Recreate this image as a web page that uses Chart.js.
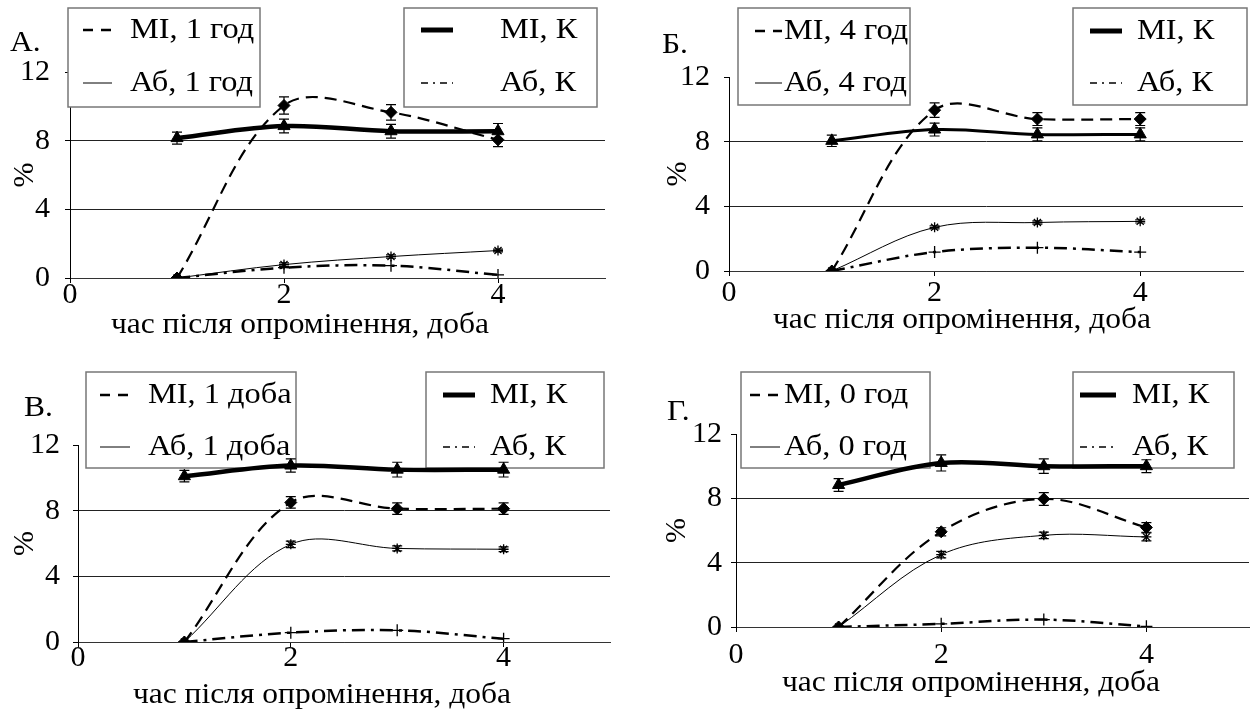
<!DOCTYPE html>
<html><head><meta charset="utf-8">
<script src="https://cdn.jsdelivr.net/npm/chart.js@4.4.1/dist/chart.umd.min.js"></script>
<style>
html,body{margin:0;padding:0;background:#fff;}
body{width:1257px;height:715px;position:relative;overflow:hidden;}
canvas{position:absolute;}
</style></head><body>
<canvas id="cA" width="628" height="345" style="left:0px;top:0px"></canvas>
<canvas id="cB" width="629" height="345" style="left:628px;top:0px"></canvas>
<canvas id="cV" width="628" height="370" style="left:0px;top:345px"></canvas>
<canvas id="cG" width="629" height="370" style="left:628px;top:345px"></canvas>
<script>
// ---------- data ----------
const days = [1, 2, 3, 4];
const xTickValues = [0, 2, 4];
const yTickValues = [0, 4, 8, 12];
const xTitle = 'час після опромінення, доба';
const yTitle = '%';
const panelLetters = ['А.', 'Б.', 'В.', 'Г.'];

const legendA = ['МІ, 1 год', 'Аб, 1 год', 'МІ, К', 'Аб, К'];
const legendB = ['МІ, 4 год', 'Аб, 4 год', 'МІ, К', 'Аб, К'];
const legendV = ['МІ, 1 доба', 'Аб, 1 доба', 'МІ, К', 'Аб, К'];
const legendG = ['МІ, 0 год', 'Аб, 0 год', 'МІ, К', 'Аб, К'];

// Panel А
const miA = [0, 10.05, 9.65, 8.05];
const miErrA = [0, 0.5, 0.45, 0.4];
const abA = [0, 0.78, 1.25, 1.6];
const abErrA = [0, 0.1, 0.1, 0.08];
const miKA = [8.15, 8.85, 8.55, 8.55];
const miKErrA = [0.35, 0.4, 0.4, 0.45];
const abKA = [0, 0.6, 0.72, 0.18];

// Panel Б
const miB = [0, 9.95, 9.4, 9.4];
const miErrB = [0, 0.45, 0.4, 0.4];
const abB = [0, 2.7, 3.0, 3.07];
const abErrB = [0, 0.1, 0.1, 0.1];
const miKB = [8.05, 8.75, 8.45, 8.45];
const miKErrB = [0.35, 0.4, 0.4, 0.4];
const abKB = [0, 1.17, 1.44, 1.17];

// Panel В
const miV = [0, 8.5, 8.12, 8.12];
const miErrV = [0, 0.35, 0.35, 0.35];
const abV = [0, 5.95, 5.7, 5.65];
const abErrV = [0, 0.2, 0.15, 0.15];
const miKV = [10.1, 10.75, 10.5, 10.5];
const miKErrV = [0.35, 0.4, 0.45, 0.45];
const abKV = [0, 0.57, 0.71, 0.2];

// Panel Г
const miG = [0, 5.92, 7.96, 6.19];
const miErrG = [0, 0.25, 0.4, 0.3];
const abG = [0, 4.5, 5.7, 5.6];
const abErrG = [0, 0.2, 0.2, 0.25];
const miKG = [8.83, 10.2, 10.0, 10.0];
const miKErrG = [0.4, 0.5, 0.45, 0.4];
const abKG = [0, 0.2, 0.46, 0.04];

// ---------- drawing ----------
const FONT = "'Liberation Serif', 'Times New Roman', serif";

const errorBarPlugin = {
  id: 'errorBars',
  afterDatasetsDraw(chart) {
    const ctx = chart.ctx;
    const yScale = chart.scales.y;
    ctx.save();
    ctx.strokeStyle = '#000';
    ctx.lineWidth = 1.2;
    ctx.setLineDash([]);
    chart.data.datasets.forEach((ds, di) => {
      if (!ds.errorBars) return;
      const meta = chart.getDatasetMeta(di);
      meta.data.forEach((pt, i) => {
        const e = ds.errorBars[i];
        if (!e) return;
        const v = ds.data[i].y;
        const y1 = yScale.getPixelForValue(v + e);
        const y2 = yScale.getPixelForValue(v - e);
        const x = pt.x;
        ctx.beginPath();
        ctx.moveTo(x, y1); ctx.lineTo(x, y2);
        ctx.moveTo(x - 5, y1); ctx.lineTo(x + 5, y1);
        ctx.moveTo(x - 5, y2); ctx.lineTo(x + 5, y2);
        ctx.stroke();
      });
    });
    ctx.restore();
  }
};

function stretchedText(ctx, text, x, y, sx, align) {
  ctx.save();
  ctx.translate(x, y);
  ctx.scale(sx, 1);
  ctx.textAlign = align;
  ctx.fillText(text, 0, 0);
  ctx.restore();
}

const decorPlugin = {
  id: 'decor',
  beforeDatasetsDraw(chart, args, opts) {
    const ctx = chart.ctx;
    ctx.save();
    ctx.fillStyle = '#000';
    ctx.textBaseline = 'middle';
    // panel letter
    ctx.font = '30px ' + FONT;
    stretchedText(ctx, opts.letter, opts.letterPos.x, opts.letterPos.y, 1.05, 'left');
    // x axis title
    ctx.font = '30px ' + FONT;
    stretchedText(ctx, opts.xTitle, opts.xTitlePos.x, opts.xTitlePos.y, 1.05, 'center');
    // legend boxes
    opts.boxes.forEach(b => {
      ctx.fillStyle = '#fff';
      ctx.fillRect(b.x, b.y, b.w, b.h);
      ctx.strokeStyle = '#777';
      ctx.lineWidth = 1.5;
      ctx.setLineDash([]);
      ctx.strokeRect(b.x, b.y, b.w, b.h);
      b.rows.forEach(r => {
        const ds = chart.data.datasets[r.ds];
        ctx.strokeStyle = '#000';
        ctx.lineWidth = r.lw;
        ctx.setLineDash(r.dash);
        ctx.beginPath();
        ctx.moveTo(r.s1, r.y); ctx.lineTo(r.s2, r.y);
        ctx.stroke();
        ctx.setLineDash([]);
        ctx.fillStyle = '#000';
        ctx.font = '30px ' + FONT;
        ctx.textBaseline = 'middle';
        stretchedText(ctx, ds.label, r.tx, r.y, 1.08, 'left');
      });
    });
    ctx.restore();
  }
};

function toXY(vals) { return days.map((d, i) => ({ x: d, y: vals[i] })); }

function makeChart(id, letter, labels, mi, miErr, ab, abErr, miK, miKErr, abK, L) {
  const common = { borderColor: '#000', backgroundColor: '#000', pointBorderColor: '#000',
                   pointBackgroundColor: '#000', tension: 0.35, fill: false };
  const datasets = [
    Object.assign({}, common, { label: labels[0], data: toXY(mi), errorBars: miErr,
      borderDash: [12, 7], borderWidth: 2.2, pointStyle: 'rectRot', pointRadius: 6, pointBorderWidth: 1 }),
    Object.assign({}, common, { label: labels[1], data: toXY(ab), errorBars: abErr,
      borderWidth: 1, pointStyle: 'star', pointRadius: 5, pointBorderWidth: 1.3 }),
    Object.assign({}, common, { label: labels[2], data: toXY(miK), errorBars: miKErr,
      borderWidth: L.kWidth, pointStyle: 'triangle', pointRadius: 7, pointBorderWidth: 1 }),
    Object.assign({}, common, { label: labels[3], data: toXY(abK),
      borderDash: [13, 6, 3, 6], borderWidth: 2.5, pointStyle: 'cross', pointRadius: 6, pointBorderWidth: 1.3 })
  ];
  const tickFont = { family: FONT, size: 30 };
  return new Chart(document.getElementById(id), {
    type: 'line',
    data: { datasets },
    options: {
      responsive: false, animation: false, devicePixelRatio: 1,
      layout: { padding: { top: L.padTop, right: L.padRight, left: 0, bottom: 0 } },
      plugins: {
        legend: { display: false }, tooltip: { enabled: false },
        decor: {
          letter, letterPos: L.letter, xTitle, xTitlePos: L.xTitlePos,
          boxes: [
            { x: L.box1.x, y: L.box1.y, w: L.box1.w, h: L.box1.h, rows: [
              { ds: 0, y: L.rows[0], s1: L.s1[0], s2: L.s1[1], tx: L.t1, lw: 2.5, dash: [10, 8] },
              { ds: 1, y: L.rows[1], s1: L.s1[0], s2: L.s1[1], tx: L.t1, lw: 1, dash: [] } ] },
            { x: L.box2.x, y: L.box2.y, w: L.box2.w, h: L.box2.h, rows: [
              { ds: 2, y: L.rows[0], s1: L.s2[0], s2: L.s2[1], tx: L.t2, lw: 5, dash: [] },
              { ds: 3, y: L.rows[1], s1: L.s2[0], s2: L.s2[1], tx: L.t2, lw: 1.5, dash: [7, 5, 2, 5] } ] }
          ]
        }
      },
      scales: {
        x: {
          type: 'linear', min: 0, max: 5,
          afterBuildTicks: s => { s.ticks = xTickValues.map(v => ({ value: v })); },
          afterFit: s => { s.height = L.xHeight; },
          ticks: { font: tickFont, color: '#000', padding: L.xLabelPad, maxRotation: 0, autoSkip: false },
          grid: { drawOnChartArea: false, drawTicks: true, tickLength: 5, tickColor: '#000' },
          border: { display: true, color: '#333', width: 1 },
          title: { display: false }
        },
        y: {
          type: 'linear', min: 0, max: 12,
          afterBuildTicks: s => { s.ticks = yTickValues.map(v => ({ value: v })); },
          afterFit: s => { s.width = L.yWidth; },
          ticks: { font: tickFont, color: '#000', padding: L.yLabelPad },
          grid: { drawTicks: true, tickLength: 5, tickColor: '#000', lineWidth: 1,
                  color: c => (c.tick && c.tick.value === 12) ? 'rgba(0,0,0,0)' : '#222' },
          border: { display: true, color: '#000', width: 1 },
          title: { display: true, text: yTitle, font: tickFont, color: '#000',
                   padding: { top: L.yTitlePad, bottom: 0 } }
        }
      }
    },
    plugins: [decorPlugin, errorBarPlugin]
  });
}

makeChart('cA', panelLetters[0], legendA, miA, miErrA, abA, abErrA, miKA, miKErrA, abKA, {
  padTop: 72, padRight: 23, yWidth: 70, xHeight: 67, xLabelPad: -6, yLabelPad: 15,
  yTitlePad: 7, kWidth: 4.5, letter: { x: 10, y: 43 }, xTitlePos: { x: 300, y: 325 },
  box1: { x: 68, y: 8, w: 192, h: 99 }, box2: { x: 404, y: 8, w: 193, h: 99 },
  rows: [30, 83], s1: [83, 112], t1: 130, s2: [421, 453], t2: 500 });

makeChart('cB', panelLetters[1], legendB, miB, miErrB, abB, abErrB, miKB, miKErrB, abKB, {
  padTop: 77, padRight: 14, yWidth: 101, xHeight: 74, xLabelPad: -1, yLabelPad: 14,
  yTitlePad: 32, kWidth: 3, letter: { x: 34, y: 45 }, xTitlePos: { x: 334, y: 320 },
  box1: { x: 110, y: 8, w: 172, h: 97 }, box2: { x: 445, y: 8, w: 174, h: 97 },
  rows: [31, 83], s1: [127, 154], t1: 156, s2: [462, 494], t2: 509 });

makeChart('cV', panelLetters[2], legendV, miV, miErrV, abV, abErrV, miKV, miKErrV, abKV, {
  padTop: 100, padRight: 18, yWidth: 78, xHeight: 73, xLabelPad: -7, yLabelPad: 13,
  yTitlePad: 7, kWidth: 4.5, letter: { x: 24, y: 63 }, xTitlePos: { x: 322, y: 350 },
  box1: { x: 86, y: 27, w: 210, h: 96 }, box2: { x: 426, y: 27, w: 178, h: 96 },
  rows: [50, 102], s1: [100, 130], t1: 148, s2: [443, 475], t2: 490 });

makeChart('cG', panelLetters[3], legendG, miG, miErrG, abG, abErrG, miKG, miKErrG, abKG, {
  padTop: 89, padRight: 0, yWidth: 108, xHeight: 88, xLabelPad: 5, yLabelPad: 9,
  yTitlePad: 31, kWidth: 4.5, letter: { x: 39, y: 67 }, xTitlePos: { x: 343, y: 338 },
  box1: { x: 113, y: 27, w: 189, h: 96 }, box2: { x: 445, y: 27, w: 161, h: 96 },
  rows: [50, 102], s1: [122, 152], t1: 156, s2: [452, 488], t2: 504 });
</script>
</body></html>
